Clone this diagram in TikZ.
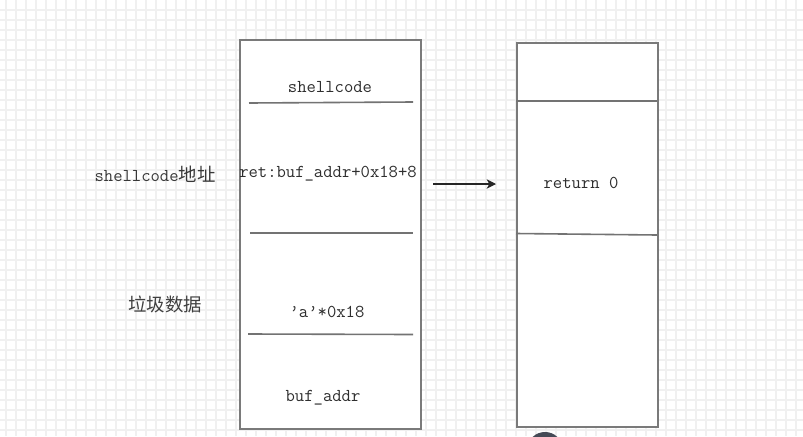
\documentclass[tikz,border=0pt]{standalone}
\usepackage{fontspec}
\usetikzlibrary{arrows.meta}
\newfontfamily\cjk{Noto Sans CJK SC}
\definecolor{blob}{HTML}{454A56}
\begin{document}
\begin{tikzpicture}[x=0.75pt,y=-0.75pt,
  gridline/.style={draw=black!6,line width=1pt},
  stackbox/.style={draw=black!52,line width=1.2pt,fill=white},
  sep/.style={draw=black!55,line width=1.2pt},
  lbl/.style={font=\fontsize{13.6pt}{15pt}\ttfamily,text=black!82,inner sep=0pt},
  cn/.style={font=\fontsize{13.8pt}{15pt}\cjk,text=black!75,inner sep=0pt},
  arr/.style={draw=black!85,line width=0.9pt,-{Stealth[length=7pt,width=7pt,inset=2pt]}}]
\useasboundingbox (0,0) rectangle (803,436);
\fill[white] (0,0) rectangle (803,436);
\begin{scope}
\clip (0,0) rectangle (803,436);
\foreach \x in {6,16,...,806} \draw[gridline] (\x,0) -- (\x,436);
\foreach \y in {10,20,...,436} \draw[gridline] (0,\y) -- (803,\y);
\fill[blob] (545,448) ellipse (17 and 16);
\end{scope}
% left stack
\node[stackbox,minimum width=135.75pt,minimum height=291.75pt,inner sep=0pt,anchor=north west] (left) at (239,39) {};
\draw[sep] (249,103) -- (413,102);
\draw[sep] (250,233) -- (413,233);
\draw[sep] (248,334) -- (413,334.5);
\node[lbl] (sc) at (330,87) {shellcode};
\node[lbl] (ret) at (328,174) {ret:buf\_addr+0x18+8};
\node[lbl] (aa) at (327,312) {’a’*0x18};
\node[lbl] (buf) at (323,398) {buf\_addr};
% side labels
\node[inner sep=0pt] (scaddr) at (155,174) {\fontsize{13.6pt}{15pt}\ttfamily\color{black!78}shellcode\cjk\fontsize{13.8pt}{15pt}\selectfont 地址};
\node[cn] (junk) at (165,304) {垃圾数据};
% right stack
\node[stackbox,minimum width=105.75pt,minimum height=288pt,inner sep=0pt,anchor=north west] (right) at (516,42) {};
\draw[sep] (516,101) -- (657,101);
\draw[sep] (516,233.5) -- (657,235);
\node[lbl] (r0) at (581,183) {return 0};
% arrow
\coordinate (a1) at (433,184);
\coordinate (a2) at (496,184);
\draw[arr] (a1) -- (a2);
\end{tikzpicture}
\end{document}
